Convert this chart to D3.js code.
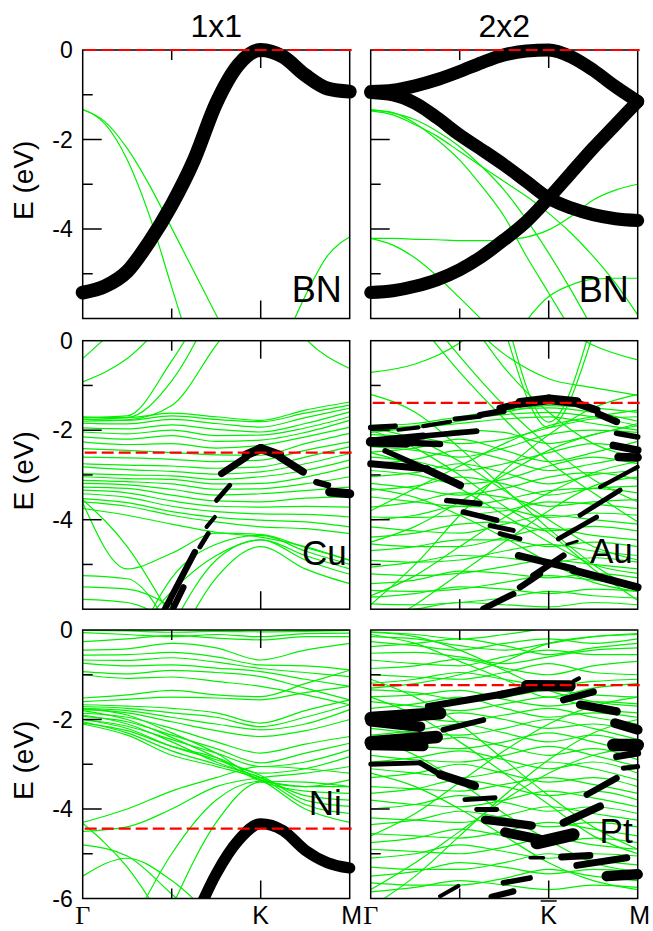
<!DOCTYPE html>
<html>
<head>
<meta charset="utf-8">
<script src="https://cdn.jsdelivr.net/npm/d3@7"></script>
<style>
  body { margin: 0; background: #fff; }
  svg { display: block; font-family: "Liberation Sans", Arial, sans-serif; }
</style>
</head>
<body>
<svg id="chart" width="653" height="931"></svg>
<script>
// k-path sampling along Gamma -> K -> M (K sits at 2/3 of the path)
const kFine = [0, 1/12, 2/12, 3/12, 4/12, 5/12, 6/12, 7/12, 8/12, 9/12, 10/12, 11/12, 1];
const kCoarse = [0, 1/6, 2/6, 3/6, 4/6, 5/6, 1];

const panelNames = ["BN", "BN", "Cu", "Au", "Ni", "Pt"];
const columnTitles = ["1x1", "2x2"];
const fermiLevels = [0, 0, -2.5, -1.39, -4.44, -1.23];
const yMajorTicks = [0, -2, -4, -6];
const yMinorTicks = [-1, -3, -5];
const yLabelsUpper = [0, -2, -4];
const yLabelsLower = [0, -2, -4, -6];

// ---- BN 1x1 (kFine) ----
const bn1Fat = [[-5.42, -5.28, -4.95, -4.28, -3.46, -2.46, -1.19, -0.33, 0, -0.15, -0.56, -0.86, -0.93]];
const bn1Green = [
  [-1.33, -1.65, -2.45, -3.7, -5.3, -6.9, null, null, null, null, null, null, null],
  [-1.33, -1.6, -2.2, -3.02, -3.98, -4.95, -5.92, -6.9, null, null, null, null, null],
  [null, null, null, null, null, null, null, null, null, -6.6, -5.5, -4.6, -4.18]
];

// ---- BN 2x2 (kFine) ----
const bn2Fat = [
  [-0.93, -0.9, -0.8, -0.66, -0.48, -0.28, -0.11, -0.02, 0, -0.15, -0.45, -0.82, -1.15],
  [-0.95, -1.0, -1.19, -1.52, -1.9, -2.23, -2.57, -2.94, -3.31, -3.53, -3.68, -3.77, -3.81],
  [-5.42, -5.38, -5.28, -5.13, -4.91, -4.61, -4.24, -3.83, -3.31, -2.75, -2.19, -1.67, -1.15]
];
const bn2Green = [
  [-1.34, -1.4, -1.64, -2.01, -2.46, -3.05, -3.72, -4.61, -5.43, -6.25, null, null, null],
  [-1.36, -1.45, -1.67, -1.93, -2.27, -2.61, -2.94, -3.27, -3.65, -4.09, -4.61, -5.21, -5.92],
  [-1.34, -1.41, -1.56, -1.82, -2.16, -2.61, -3.13, -3.79, -4.54, -5.36, -6.25, null, null],
  [-4.21, -4.21, -4.23, -4.24, -4.26, -4.26, -4.24, -4.18, -4.02, -3.72, -3.35, -3.13, -3.0],
  [-4.21, -4.36, -4.65, -5.06, -5.54, -6.03, -6.5, null, null, null, null, null, null],
  [null, null, null, null, null, null, -6.8, -6.05, -5.51, -5.25, -5.12, -5.1, -5.1]
];

// ---- Cu 1x1 (kCoarse) ----
const cuGreen = [
  [-0.4, 0.5, null, null, null, null, null],
  [-0.92, -0.4, 0.6, null, null, null, null],
  [-1.72, -1.68, -0.45, 1.2, null, null, null],
  [-1.76, -1.72, -0.9, 0.9, null, null, null],
  [-1.8, -1.77, -1.45, -0.1, 1.2, null, null],
  [null, null, null, null, 1.5, 0.05, -0.62],
  [-1.70, -1.72, -1.62, -1.70, -1.78, -1.55, -1.37],
  [-1.76, -1.78, -1.68, -1.76, -1.81, -1.62, -1.44],
  [-1.84, -1.86, -1.76, -1.85, -1.93, -1.72, -1.51],
  [-1.95, -1.97, -1.88, -1.98, -2.04, -1.85, -1.59],
  [-2.04, -2.08, -2.0, -2.12, -2.11, -1.95, -1.70],
  [-2.15, -2.2, -2.12, -2.25, -2.22, -2.05, -1.78],
  [-2.26, -2.32, -2.3, -2.4, -2.34, -2.15, -1.93],
  [-2.41, -2.45, -2.5, -2.55, -2.56, -2.3, -2.07],
  [-2.60, -2.62, -2.65, -2.7, -2.67, -2.45, -2.26],
  [-2.75, -2.78, -2.8, -2.85, -2.82, -2.6, -2.37],
  [-2.82, -2.88, -2.92, -2.98, -2.93, -2.75, -2.52],
  [-2.97, -3.0, -3.02, -3.1, -3.04, -2.9, -2.67],
  [-3.04, -3.08, -3.1, -3.2, -3.19, -3.05, -2.82],
  [-3.12, -3.15, -3.2, -3.32, -3.31, -3.2, -3.04],
  [-3.19, -3.22, -3.32, -3.45, -3.42, -3.35, -3.27],
  [-3.27, -3.3, -3.45, -3.58, -3.60, -3.52, -3.49],
  [-3.34, -3.4, -3.58, -3.7, -3.72, -3.7, -3.72],
  [-3.42, -3.5, -3.7, -3.82, -3.87, -3.88, -3.94],
  [-3.53, -3.62, -3.82, -3.95, -4.01, -4.05, -4.16],
  [-3.60, -3.7, -3.9, -4.05, -4.16, -4.2, -4.31],
  [-3.75, -3.9, -4.1, -4.28, -4.39, -4.6, -4.91],
  [null, -7.2, -5.3, -4.55, -4.35, -4.7, -5.0],
  [null, null, -6.4, -4.9, -4.45, -4.9, -5.22],
  [null, null, -7.0, -5.3, -4.6, -5.1, -5.43],
  [-3.62, -5.1, -4.75, -4.3, -4.33, -4.62, -4.9],
  [-3.55, -4.6, -6.2, null, null, null, null],
  [-5.25, -5.32, -6.5, null, null, null, null],
  [-5.5, -5.55, -5.95, -6.8, null, null, null],
  [null, -6.8, -5.6, -4.8, -4.45, -4.8, -5.1],
  [-5.78, -5.85, -6.3, null, null, null, null]
];
// projected weight segments: [k0, E0, k1, E1, weight]
const cuFat = [
  [0.299, -6.1, 0.42, -4.72, 0.45],
  [0.333, -6.05, 0.377, -5.51, 0.45],
  [0.439, -4.61, 0.47, -4.31, 0.35],
  [0.464, -4.16, 0.495, -3.94, 0.3],
  [0.501, -3.57, 0.551, -3.23, 0.35],
  [0.52, -2.97, 0.613, -2.6, 0.5],
  [0.613, -2.55, 0.667, -2.41, 0.65],
  [0.667, -2.41, 0.738, -2.56, 0.65],
  [0.738, -2.6, 0.825, -2.93, 0.55],
  [0.875, -3.16, 0.919, -3.23, 0.45],
  [0.925, -3.38, 1.0, -3.42, 0.65]
];

// ---- Au 2x2 (kCoarse) ----
const auGreen = [
  [-0.71, -0.52, -0.05, 0.8, null, null, null],
  [null, null, null, 0.3, -1.94, 0.15, null],
  [null, null, null, 0.7, -1.82, 0.5, null],
  [null, null, 0.6, -0.3, -0.85, -1.05, -1.22],
  [null, null, null, null, 0.5, -0.1, -0.43],
  [null, 0.9, -0.35, -1.45, -2.35, -3.1, -3.6],
  [null, 0.5, -0.7, -1.75, -2.7, -3.4, -4.05],
  [null, null, 0.8, -0.6, -1.6, -2.3, -2.6],
  [-4.5, -4.15, -3.6, -3.0, -2.45, -2.1, -1.9],
  [-5.7, -5.25, -4.6, -3.95, -3.4, -2.95, -2.7],
  [-6.5, -5.9, -5.2, -4.5, -3.8, -3.25, -3.05],
  [-3.8, -3.3, -2.8, -2.3, -1.9, -1.7, -1.55],
  [-2.5, -2.8, -3.3, -3.9, -4.5, -5.0, -5.2],
  [-3.3, -3.5, -3.9, -4.4, -4.95, -5.4, -5.6],
  [-1.95, -2.2, -2.7, -3.35, -4.0, -4.6, -4.9],
  [-2.0, -2.4, -3.0, -3.7, -4.3, -5.1, -5.8],
  [-5.9, -5.0, -3.9, -2.9, -2.1, -1.5, -1.2],
  [-1.2, -1.6, -2.4, -3.3, -4.2, -5.0, -5.6],
  [-1.9, -1.85, -1.7, -1.55, -1.5, -1.6, -1.8],
  [-1.95, -1.9, -1.75, -1.65, -1.6, -1.7, -1.9],
  [-2.05, -1.95, -1.85, -1.75, -1.7, -1.85, -2.0],
  [-2.0, -1.95, -1.8, -1.6, -1.45, -1.5, -1.6],
  [-2.1, -2.15, -2.3, -2.2, -1.95, -1.75, -1.7],
  [-2.26, -2.2, -2.0, -2.05, -2.3, -2.1, -1.85],
  [-2.37, -2.45, -2.6, -2.4, -2.1, -2.0, -2.05],
  [-2.49, -2.4, -2.2, -2.45, -2.7, -2.5, -2.25],
  [-2.6, -2.7, -2.9, -2.75, -2.5, -2.3, -2.4],
  [-2.75, -2.65, -2.45, -2.65, -2.9, -2.75, -2.55],
  [-2.9, -3.0, -3.2, -3.1, -2.8, -2.6, -2.75],
  [-3.04, -2.95, -2.75, -2.95, -3.2, -3.0, -2.9],
  [-3.19, -3.3, -3.45, -3.3, -3.05, -2.95, -3.1],
  [-3.34, -3.25, -3.05, -3.2, -3.45, -3.3, -3.25],
  [-3.49, -3.6, -3.7, -3.55, -3.35, -3.3, -3.4],
  [-3.72, -3.6, -3.4, -3.5, -3.7, -3.6, -3.55],
  [-3.94, -3.95, -3.9, -3.8, -3.6, -3.65, -3.75],
  [-4.01, -3.9, -3.7, -3.75, -3.95, -3.85, -3.9],
  [-4.16, -4.25, -4.3, -4.1, -3.9, -4.0, -4.1],
  [-4.39, -4.3, -4.1, -4.05, -4.25, -4.15, -4.25],
  [-4.54, -4.6, -4.6, -4.4, -4.2, -4.35, -4.45],
  [-4.69, -4.6, -4.45, -4.45, -4.6, -4.5, -4.6],
  [-4.91, -4.95, -4.9, -4.7, -4.55, -4.7, -4.8],
  [-5.06, -4.95, -4.8, -4.85, -4.95, -4.85, -4.95],
  [-5.21, -5.25, -5.2, -5.05, -4.9, -5.0, -5.1],
  [-5.43, -5.35, -5.15, -5.2, -5.3, -5.2, -5.3],
  [-5.58, -5.6, -5.55, -5.4, -5.25, -5.35, -5.45],
  [-5.73, -5.65, -5.5, -5.55, -5.65, -5.55, -5.6],
  [-5.88, -5.9, -5.85, -5.75, -5.6, -5.7, -5.75],
  [-6.1, -6.0, -5.85, -5.9, -5.95, -5.85, -5.9]
];
const auFat = [
  [0.0, -1.94, 0.091, -1.91, 0.4],
  [0.104, -1.99, 0.179, -1.94, 0.3],
  [0.197, -1.91, 0.297, -1.81, 0.3],
  [0.316, -1.75, 0.409, -1.69, 0.35],
  [0.409, -1.66, 0.497, -1.57, 0.45],
  [0.484, -1.51, 0.584, -1.37, 0.5],
  [0.559, -1.39, 0.668, -1.31, 0.7],
  [0.668, -1.31, 0.772, -1.37, 0.7],
  [0.772, -1.4, 0.846, -1.55, 0.55],
  [0.853, -1.64, 0.921, -1.81, 0.5],
  [0.921, -2.07, 1.0, -2.15, 0.4],
  [0.0, -2.26, 0.135, -2.28, 0.7],
  [0.135, -2.28, 0.26, -2.31, 0.45],
  [0.0, -2.24, 0.197, -2.13, 0.5],
  [0.197, -2.13, 0.397, -2.02, 0.4],
  [0.0, -2.75, 0.21, -2.86, 0.5],
  [0.054, -2.46, 0.247, -2.97, 0.4],
  [0.21, -2.88, 0.335, -3.23, 0.55],
  [0.285, -3.57, 0.409, -3.64, 0.4],
  [0.347, -3.83, 0.472, -4.01, 0.4],
  [0.447, -4.13, 0.534, -4.24, 0.35],
  [0.484, -4.31, 0.559, -4.43, 0.35],
  [0.909, -2.34, 1.0, -2.45, 0.55],
  [0.928, -2.6, 1.0, -2.61, 0.6],
  [0.859, -3.27, 1.0, -2.82, 0.3],
  [0.784, -3.9, 0.934, -3.34, 0.35],
  [0.703, -4.43, 0.846, -3.94, 0.35],
  [0.734, -4.55, 0.774, -4.48, 0.2],
  [0.553, -4.8, 0.759, -5.1, 0.5],
  [0.759, -5.13, 1.0, -5.51, 0.55],
  [0.422, -5.99, 0.534, -5.66, 0.45],
  [0.559, -5.51, 0.634, -5.21, 0.45],
  [0.609, -5.25, 0.722, -4.8, 0.45]
];

// ---- Ni 1x1 (kCoarse; fat band on kFine) ----
const niFat = [[null, null, null, null, null, -6.5, -5.45, -4.7, -4.33, -4.48, -4.92, -5.2, -5.32]];
const niGreen = [
  [-0.01, -0.02, -0.05, -0.03, -0.04, -0.03, -0.01],
  [-0.06, -0.1, -0.15, -0.1, -0.15, -0.08, -0.07],
  [-0.26, -0.2, -0.12, -0.18, -0.22, -0.15, -0.15],
  [-0.45, -0.42, -0.3, -0.4, -0.67, -0.45, -0.3],
  [-0.56, -0.55, -0.5, -0.6, -0.78, -0.8, -0.89],
  [-0.67, -0.68, -0.62, -0.72, -0.86, -0.95, -1.04],
  [-0.74, -0.8, -0.78, -0.85, -0.93, -1.1, -1.26],
  [-0.93, -0.98, -0.9, -0.95, -1.04, -1.3, -1.56],
  [-1.0, -1.08, -1.05, -1.15, -1.26, -1.45, -1.67],
  [-1.52, -1.45, -1.35, -1.45, -1.49, -1.2, -0.9],
  [-1.6, -1.55, -1.5, -1.52, -1.56, -1.4, -1.26],
  [-1.67, -1.7, -1.75, -1.85, -2.08, -1.8, -1.56],
  [-1.71, -1.75, -1.85, -1.95, -2.16, -1.95, -1.67],
  [-1.75, -1.8, -1.95, -2.1, -2.23, -2.1, -1.78],
  [-1.78, -1.85, -2.05, -2.25, -2.38, -2.25, -2.0],
  [-1.86, -1.95, -2.2, -2.5, -2.75, -2.55, -2.38],
  [-1.93, -2.05, -2.35, -2.65, -2.97, -2.75, -2.53],
  [-2.0, -2.15, -2.45, -2.75, -3.05, -2.95, -2.68],
  [-2.08, -2.25, -2.6, -2.85, -3.2, -3.1, -2.83],
  [-1.75, -1.9, -2.3, -2.75, -3.35, -3.5, -3.5],
  [-1.8, -2.0, -2.4, -2.85, -3.38, -3.6, -3.65],
  [-1.9, -2.1, -2.5, -2.95, -3.3, -3.7, -3.8],
  [-2.0, -2.2, -2.6, -2.9, -3.25, -3.8, -3.94],
  [-2.05, -2.3, -2.7, -3.0, -3.3, -3.9, -4.1],
  [-2.1, -2.35, -2.8, -3.05, -3.35, -4.0, -4.3],
  [-4.3, -4.0, -3.6, -3.3, -3.05, -3.1, -3.2],
  [-4.5, -4.4, -4.0, -3.5, -3.3, -3.2, -3.05],
  [null, -6.8, -5.0, -3.8, -3.38, -3.4, -3.5],
  [null, null, -6.2, -4.3, -3.4, -3.5, -3.35],
  [-4.32, -5.3, -6.8, null, null, null, null],
  [-4.8, -5.05, -5.9, -6.8, null, null, null],
  [-5.5, -5.1, -5.6, -6.5, null, null, null]
];

// ---- Pt 2x2 (kCoarse) ----
const ptGreen = [
  [-0.04, -0.1, -0.2, -0.1, 0.05, null, null],
  [-0.15, -0.2, -0.35, -0.45, -0.3, -0.15, -0.08],
  [-0.26, -0.35, -0.45, -0.3, -0.2, -0.3, -0.2],
  [-0.37, -0.3, -0.2, -0.35, -0.55, -0.4, -0.3],
  [-0.52, -0.5, -0.6, -0.75, -0.6, -0.45, -0.4],
  [-0.67, -0.75, -0.8, -0.6, -0.45, -0.55, -0.55],
  [-0.86, -0.8, -0.65, -0.85, -1.0, -0.8, -0.7],
  [-1.0, -1.05, -1.1, -0.95, -0.75, -0.95, -1.0],
  [-1.19, -1.1, -0.95, -1.1, -1.25, -1.15, -1.1],
  [-0.1, -0.3, -0.7, -1.1, -1.5, -1.3, -1.2],
  [-1.3, -1.2, -1.0, -0.7, -0.3, -0.15, -0.1],
  [-0.05, -0.15, -0.45, -0.9, -1.35, -1.6, -1.7],
  [-1.34, -1.4, -1.55, -1.5, -1.35, -1.45, -1.5],
  [-1.49, -1.45, -1.35, -1.55, -1.7, -1.6, -1.65],
  [-1.6, -1.7, -1.8, -1.65, -1.5, -1.75, -1.85],
  [-1.75, -1.65, -1.5, -1.75, -1.95, -1.85, -1.95],
  [-1.85, -1.95, -2.05, -1.9, -1.75, -1.95, -2.1],
  [-2.05, -2.0, -1.85, -2.0, -2.2, -2.1, -2.3],
  [-2.2, -2.3, -2.35, -2.2, -2.0, -2.2, -2.45],
  [-2.35, -2.25, -2.1, -2.3, -2.5, -2.35, -2.6],
  [-2.5, -2.6, -2.65, -2.5, -2.3, -2.5, -2.75],
  [-2.65, -2.55, -2.4, -2.6, -2.8, -2.65, -2.9],
  [-2.8, -2.9, -2.95, -2.8, -2.6, -2.8, -3.05],
  [-2.95, -2.85, -2.7, -2.9, -3.1, -2.95, -3.2],
  [-3.1, -3.2, -3.3, -3.15, -2.95, -3.1, -3.35],
  [-3.3, -3.2, -3.0, -3.2, -3.4, -3.3, -3.5],
  [-3.5, -3.55, -3.6, -3.45, -3.3, -3.45, -3.65],
  [-3.65, -3.55, -3.35, -3.5, -3.7, -3.6, -3.8],
  [-3.8, -3.9, -3.95, -3.8, -3.6, -3.75, -3.95],
  [-4.0, -3.9, -3.7, -3.85, -4.05, -3.95, -4.1],
  [-4.2, -4.25, -4.3, -4.15, -3.95, -4.1, -4.25],
  [-4.35, -4.25, -4.05, -4.2, -4.4, -4.3, -4.4],
  [-4.55, -4.6, -4.65, -4.5, -4.3, -4.45, -4.6],
  [-4.75, -4.65, -4.45, -4.6, -4.75, -4.65, -4.75],
  [-4.9, -4.95, -5.0, -4.85, -4.65, -4.8, -4.9],
  [-5.1, -5.0, -4.8, -4.95, -5.1, -5.0, -5.05],
  [-5.3, -5.35, -5.35, -5.2, -5.0, -5.15, -5.25],
  [-5.5, -5.4, -5.2, -5.3, -5.45, -5.35, -5.4],
  [-5.65, -5.7, -5.7, -5.55, -5.35, -5.5, -5.6],
  [-5.85, -5.75, -5.6, -5.7, -5.8, -5.7, -5.75],
  [-4.6, -4.1, -3.4, -2.7, -2.1, -1.7, -1.5],
  [-5.8, -5.2, -4.5, -3.8, -3.2, -2.8, -2.6],
  [-2.4, -2.8, -3.4, -4.1, -4.7, -5.2, -5.4],
  [-3.2, -3.5, -4.0, -4.6, -5.2, -5.6, -5.8],
  [-1.5, -1.9, -2.5, -3.2, -3.9, -4.6, -5.0],
  [-6.2, -5.5, -4.6, -3.7, -2.9, -2.3, -2.0],
  [-1.1, -1.5, -2.1, -2.9, -3.7, -4.4, -4.9]
];
const ptFat = [
  [0.216, -1.71, 0.497, -1.43, 0.5],
  [0.484, -1.45, 0.634, -1.26, 0.55],
  [0.584, -1.24, 0.747, -1.25, 0.8],
  [0.76, -1.14, 0.78, -1.08, 0.3],
  [0.722, -1.56, 0.834, -1.38, 0.5],
  [0.784, -1.67, 0.921, -1.82, 0.6],
  [0.915, -2.08, 1.0, -2.23, 0.7],
  [0.0, -1.97, 0.26, -1.86, 0.9],
  [0.0, -2.04, 0.185, -2.16, 0.75],
  [0.272, -2.23, 0.422, -2.01, 0.4],
  [0.0, -2.51, 0.247, -2.39, 0.9],
  [0.0, -2.57, 0.197, -2.59, 0.75],
  [0.909, -2.57, 1.0, -2.57, 0.9],
  [0.921, -2.83, 1.0, -2.75, 0.5],
  [0.946, -3.09, 1.0, -3.05, 0.35],
  [0.0, -3.0, 0.185, -2.97, 0.35],
  [0.185, -2.97, 0.26, -3.23, 0.4],
  [0.26, -3.23, 0.39, -3.48, 0.6],
  [0.353, -3.79, 0.466, -3.75, 0.35],
  [0.397, -4.01, 0.472, -4.01, 0.35],
  [0.428, -4.24, 0.603, -4.37, 0.6],
  [0.503, -4.52, 0.634, -4.68, 0.7],
  [0.622, -4.76, 0.759, -4.57, 0.9],
  [0.722, -4.31, 0.859, -3.94, 0.55],
  [0.809, -3.68, 0.921, -3.31, 0.45],
  [0.597, -5.09, 0.647, -5.09, 0.25],
  [0.715, -5.07, 0.821, -5.04, 0.5],
  [0.772, -5.26, 0.959, -5.09, 0.5],
  [0.884, -5.5, 1.0, -5.46, 0.75],
  [0.497, -5.65, 0.597, -5.54, 0.4],
  [0.453, -5.96, 0.534, -5.84, 0.45],
  [0.26, -5.95, 0.328, -5.72, 0.3]
];

// ---- layout ----
const svg = d3.select("#chart");
const W = 267, H = 268.5;
const colX = [82.7, 370.7];
const rowY = [50, 340.7, 630];
const weightWidth = d3.scaleLinear().domain([0, 1]).range([0, 14]);

const panels = [
  { col: 0, row: 0, grid: kFine, green: bn1Green, fatGrid: kFine, fat: bn1Fat, fatW: 1.0, seg: [], lx: -8, ly: 252, fs: 36 },
  { col: 1, row: 0, grid: kFine, green: bn2Green, fatGrid: kFine, fat: bn2Fat, fatW: 0.93, seg: [], lx: -9, ly: 252, fs: 36 },
  { col: 0, row: 1, grid: kCoarse, green: cuGreen, fatGrid: kFine, fat: [], fatW: 0, seg: cuFat, lx: -3, ly: 224, fs: 35 },
  { col: 1, row: 1, grid: kCoarse, green: auGreen, fatGrid: kFine, fat: [], fatW: 0, seg: auFat, lx: -5, ly: 222, fs: 35 },
  { col: 0, row: 2, grid: kCoarse, green: niGreen, fatGrid: kFine, fat: niFat, fatW: 0.8, seg: [], lx: -8, ly: 185, fs: 35 },
  { col: 1, row: 2, grid: kCoarse, green: ptGreen, fatGrid: kFine, fat: [], fatW: 0, seg: ptFat, lx: -5, ly: 213, fs: 35 }
];

const defs = svg.append("defs");

panels.forEach((p, i) => {
  const x0 = colX[p.col], y0 = rowY[p.row];
  const x = d3.scaleLinear().domain([0, 1]).range([x0, x0 + W]);
  const y = d3.scaleLinear().domain([-6, 0]).range([y0 + H, y0]);
  const g = svg.append("g");

  defs.append("clipPath").attr("id", "clipG" + i)
    .append("rect").attr("x", x0).attr("y", y0).attr("width", W).attr("height", H);
  defs.append("clipPath").attr("id", "clipF" + i)
    .append("rect").attr("x", x0 - 12).attr("y", y0 - 12).attr("width", W + 24).attr("height", H + 12);

  const bandLine = d3.line()
    .defined(d => d[1] != null)
    .x(d => x(d[0]))
    .y(d => y(d[1]))
    .curve(d3.curveMonotoneX);

  // plain bands
  g.append("g").attr("clip-path", `url(#clipG${i})`)
    .selectAll("path").data(p.green).join("path")
    .attr("d", b => bandLine(b.map((e, j) => [p.grid[j], e])))
    .attr("fill", "none").attr("stroke", "#00f000").attr("stroke-width", 1.2);

  // projected (fat) bands
  const fatG = g.append("g").attr("clip-path", `url(#clipF${i})`);
  fatG.selectAll("path").data(p.fat).join("path")
    .attr("d", b => bandLine(b.map((e, j) => [p.fatGrid[j], e])))
    .attr("fill", "none").attr("stroke", "#000")
    .attr("stroke-width", weightWidth(p.fatW))
    .attr("stroke-linecap", "round").attr("stroke-linejoin", "round");
  fatG.selectAll("line").data(p.seg).join("line")
    .attr("x1", d => x(d[0])).attr("y1", d => y(d[1]))
    .attr("x2", d => x(d[2])).attr("y2", d => y(d[3]))
    .attr("stroke", "#000").attr("stroke-width", d => weightWidth(d[4]))
    .attr("stroke-linecap", "round");

  // frame
  g.append("rect").attr("x", x0).attr("y", y0).attr("width", W).attr("height", H)
    .attr("fill", "none").attr("stroke", "#000").attr("stroke-width", 1.5);

  // y ticks (inside, left)
  g.selectAll(".ymaj").data(yMajorTicks.filter(t => t > -6 && t < 0)).join("line")
    .attr("x1", x0).attr("x2", x0 + 19).attr("y1", d => y(d)).attr("y2", d => y(d))
    .attr("stroke", "#000").attr("stroke-width", 1.5);
  g.selectAll(".ymin").data(yMinorTicks).join("line")
    .attr("x1", x0).attr("x2", x0 + 10).attr("y1", d => y(d)).attr("y2", d => y(d))
    .attr("stroke", "#000").attr("stroke-width", 1.5);

  // x ticks at the mid point (minor) and K (major), top and bottom
  [[1/3, 10], [2/3, 18]].forEach(([k, len]) => {
    g.append("line").attr("x1", x(k)).attr("x2", x(k)).attr("y1", y0).attr("y2", y0 + len)
      .attr("stroke", "#000").attr("stroke-width", 1.5);
    g.append("line").attr("x1", x(k)).attr("x2", x(k)).attr("y1", y0 + H).attr("y2", y0 + H - len)
      .attr("stroke", "#000").attr("stroke-width", 1.5);
  });

  // reference level
  g.append("line")
    .attr("x1", x(0) + 2).attr("x2", x(1) + 2)
    .attr("y1", y(fermiLevels[i])).attr("y2", y(fermiLevels[i]))
    .attr("stroke", "#ff0000").attr("stroke-width", 2.2)
    .attr("stroke-dasharray", "12,5");

  // substrate label
  g.append("text").attr("x", x0 + W + p.lx).attr("y", y0 + p.ly)
    .attr("text-anchor", "end").attr("font-size", p.fs).text(panelNames[i]);

  // y tick labels and axis title on the left column
  if (p.col === 0) {
    const labels = p.row === 2 ? yLabelsLower : yLabelsUpper;
    g.selectAll(".ylab").data(labels).join("text")
      .attr("x", x0 - 10).attr("y", d => y(d)).attr("dy", "0.36em")
      .attr("text-anchor", "end").attr("font-size", 23).text(d => d);
    g.append("text")
      .attr("transform", `translate(33,${y0 + H / 2 - 4}) rotate(-90)`)
      .attr("text-anchor", "middle").attr("font-size", 28).text("E (eV)");
  }
  if (p.row === 0) {
    g.append("text").attr("x", x0 + W / 2).attr("y", 37)
      .attr("text-anchor", "middle").attr("font-size", 32).text(columnTitles[p.col]);
  }
  if (p.row === 2) {
    const base = 924;
    g.append("text").attr("x", x(0)).attr("y", base).attr("text-anchor", "middle")
      .attr("font-family", "Liberation Serif, serif").attr("font-size", 26).text("Γ");
    g.append("text").attr("x", x(2/3)).attr("y", base).attr("text-anchor", "middle")
      .attr("font-size", 25).text("K");
    g.append("text").attr("x", x(1) + 2).attr("y", base).attr("text-anchor", "middle")
      .attr("font-size", 25).text("M");
    if (p.col === 1) {
      g.append("line").attr("x1", x(2/3) - 8).attr("x2", x(2/3) + 8)
        .attr("y1", base - 23).attr("y2", base - 23)
        .attr("stroke", "#000").attr("stroke-width", 1.5);
    }
  }
});
</script>
</body>
</html>
